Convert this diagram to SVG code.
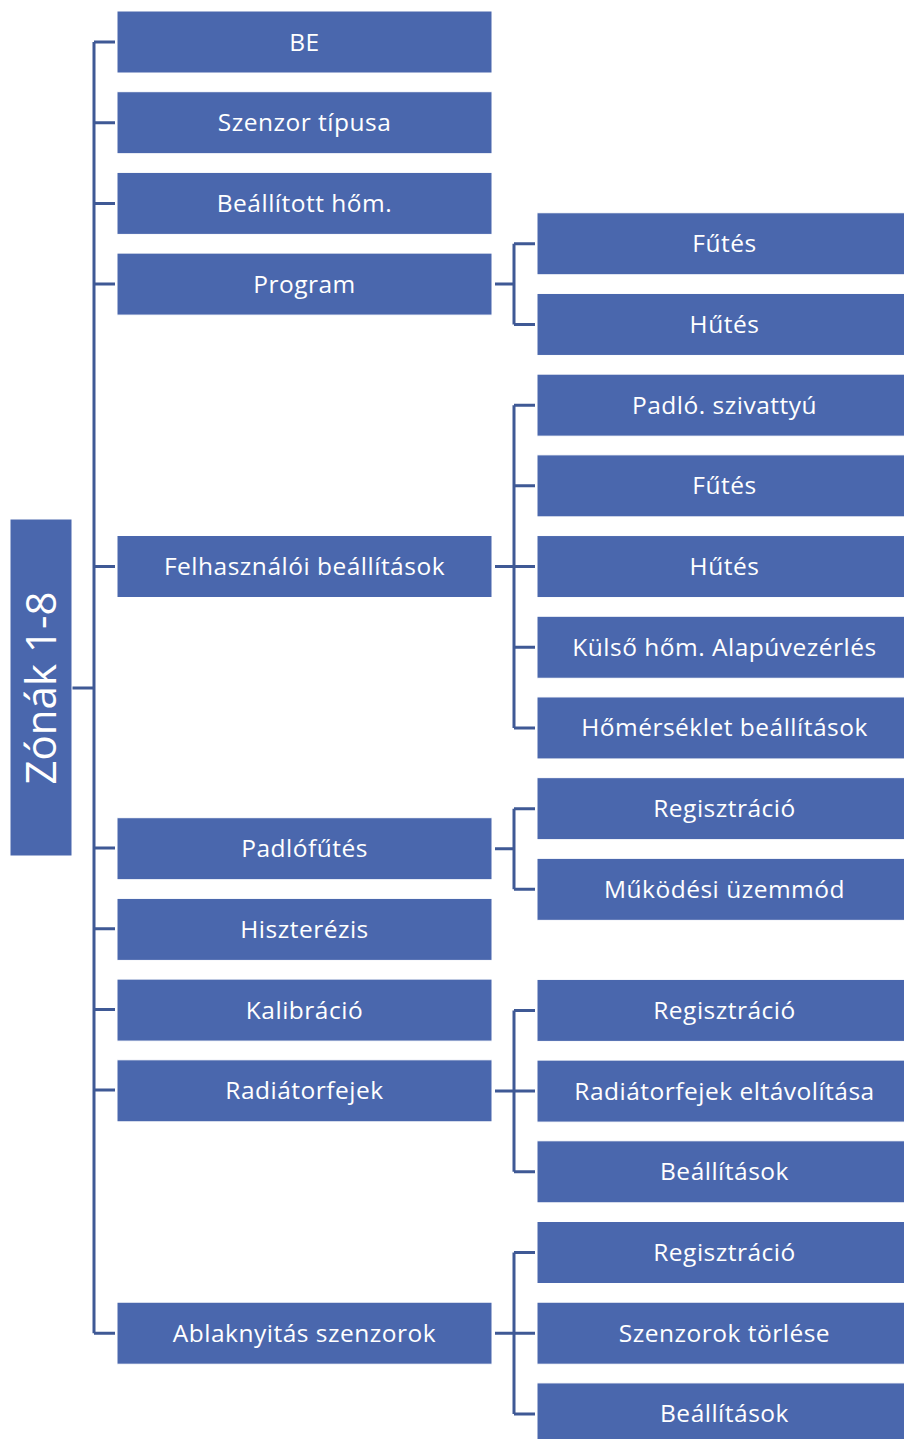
<svg xmlns="http://www.w3.org/2000/svg" width="904" height="1439" viewBox="0 0 904 1439">
<style>
.box{fill:#4A67AD;stroke:#ffffff;stroke-width:1}
.t{font-family:"Open Sans","Noto Sans",sans-serif;font-size:24.5px;fill:#ffffff;text-anchor:middle;letter-spacing:0.5px}
.root{font-family:"Open Sans","Noto Sans",sans-serif;font-size:42px;fill:#ffffff;text-anchor:middle}
.c{fill:none;stroke:#3F5995;stroke-width:3;stroke-linejoin:miter}
</style>
<rect width="904" height="1439" fill="#ffffff"/>
<g id="connectors">
<path class="c" d="M72 688H94M94 42V1333.2M94 42H115M94 122.7H115M94 203.4H115M94 284.1H115M94 566.5H115M94 848H115M94 928.7H115M94 1009.4H115M94 1090.1H115M94 1333.2H115"/>
<path class="c" d="M495 284.1H514M514 243.75V324.45M514 243.75H535M514 324.45H535"/>
<path class="c" d="M495 566.5H514M514 405.15V727.95M514 405.15H535M514 485.85H535M514 566.55H535M514 647.25H535M514 727.95H535"/>
<path class="c" d="M495 848.7H514M514 808.65V889.35M514 808.65H535M514 889.35H535"/>
<path class="c" d="M495 1091.1H514M514 1010.4V1171.8M514 1010.4H535M514 1091.1H535M514 1171.8H535"/>
<path class="c" d="M495 1333.2H514M514 1252.5V1413.9M514 1252.5H535M514 1333.2H535M514 1413.9H535"/>
</g>
<g id="root"><rect class="box" x="10" y="519" width="62" height="337"/><text class="root" transform="translate(56 688) rotate(-90)">Zónák 1-8</text></g>
<g id="n-be"><rect class="box" x="117" y="11" width="375" height="62"/><text class="t" x="304.5" y="50.5">BE</text></g>
<g id="n-szenzor"><rect class="box" x="117" y="91.7" width="375" height="62"/><text class="t" x="304.5" y="131.2">Szenzor típusa</text></g>
<g id="n-beallitott"><rect class="box" x="117" y="172.4" width="375" height="62"/><text class="t" x="304.5" y="211.9">Beállított hőm.</text></g>
<g id="n-program"><rect class="box" x="117" y="253.1" width="375" height="62"/><text class="t" x="304.5" y="292.6">Program</text></g>
<g id="n-felh"><rect class="box" x="117" y="535.5" width="375" height="62"/><text class="t" x="304.5" y="575">Felhasználói beállítások</text></g>
<g id="n-padlo"><rect class="box" x="117" y="817.7" width="375" height="62"/><text class="t" x="304.5" y="857.2">Padlófűtés</text></g>
<g id="n-hiszt"><rect class="box" x="117" y="898.4" width="375" height="62"/><text class="t" x="304.5" y="937.9">Hiszterézis</text></g>
<g id="n-kalib"><rect class="box" x="117" y="979.1" width="375" height="62"/><text class="t" x="304.5" y="1018.6">Kalibráció</text></g>
<g id="n-rad"><rect class="box" x="117" y="1059.8" width="375" height="62"/><text class="t" x="304.5" y="1099.3">Radiátorfejek</text></g>
<g id="n-ablak"><rect class="box" x="117" y="1302.2" width="375" height="62"/><text class="t" x="304.5" y="1341.7">Ablaknyitás szenzorok</text></g>
<g id="p-futes"><rect class="box" x="537" y="212.75" width="375" height="62"/><text class="t" x="724.5" y="252.25">Fűtés</text></g>
<g id="p-hutes"><rect class="box" x="537" y="293.45" width="375" height="62"/><text class="t" x="724.5" y="332.95">Hűtés</text></g>
<g id="f-szivattyu"><rect class="box" x="537" y="374.15" width="375" height="62"/><text class="t" x="724.5" y="413.65">Padló. szivattyú</text></g>
<g id="f-futes"><rect class="box" x="537" y="454.85" width="375" height="62"/><text class="t" x="724.5" y="494.35">Fűtés</text></g>
<g id="f-hutes"><rect class="box" x="537" y="535.55" width="375" height="62"/><text class="t" x="724.5" y="575.05">Hűtés</text></g>
<g id="f-kulso"><rect class="box" x="537" y="616.25" width="375" height="62"/><text class="t" x="724.5" y="655.75">Külső hőm. Alapúvezérlés</text></g>
<g id="f-homerseklet"><rect class="box" x="537" y="696.95" width="375" height="62"/><text class="t" x="724.5" y="736.45">Hőmérséklet beállítások</text></g>
<g id="pf-reg"><rect class="box" x="537" y="777.65" width="375" height="62"/><text class="t" x="724.5" y="817.15">Regisztráció</text></g>
<g id="pf-mukodesi"><rect class="box" x="537" y="858.35" width="375" height="62"/><text class="t" x="724.5" y="897.85">Működési üzemmód</text></g>
<g id="r-reg"><rect class="box" x="537" y="979.4" width="375" height="62"/><text class="t" x="724.5" y="1018.9">Regisztráció</text></g>
<g id="r-elt"><rect class="box" x="537" y="1060.1" width="375" height="62"/><text class="t" x="724.5" y="1099.6">Radiátorfejek eltávolítása</text></g>
<g id="r-beall"><rect class="box" x="537" y="1140.8" width="375" height="62"/><text class="t" x="724.5" y="1180.3">Beállítások</text></g>
<g id="a-reg"><rect class="box" x="537" y="1221.5" width="375" height="62"/><text class="t" x="724.5" y="1261">Regisztráció</text></g>
<g id="a-torles"><rect class="box" x="537" y="1302.2" width="375" height="62"/><text class="t" x="724.5" y="1341.7">Szenzorok törlése</text></g>
<g id="a-beall"><rect class="box" x="537" y="1382.9" width="375" height="62"/><text class="t" x="724.5" y="1422.4">Beállítások</text></g>
</svg>
